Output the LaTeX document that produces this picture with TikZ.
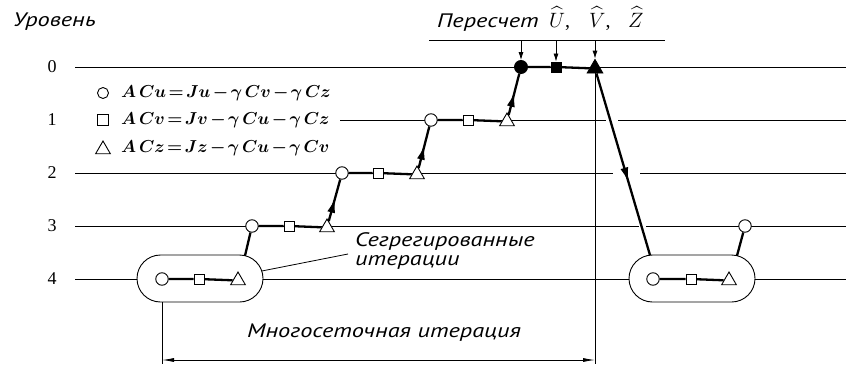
\documentclass[tikz,border=0pt]{standalone}
\usepackage{fontspec}
\usepackage{amsmath}
\usepackage{bm}
\usetikzlibrary{arrows.meta,shapes.geometric,shapes.misc,decorations.markings}
\setmainfont{Liberation Serif}
\newfontfamily\lblfont{PT Sans}[FakeStretch=1.25,ItalicFeatures={FakeStretch=1.25}]
\newcommand\opsp{\mkern2.5mu}
\begin{document}
\begin{tikzpicture}[x=1pt,y=-1pt,
  thinln/.style={line width=0.8pt},
  thk/.style={line width=2.3pt},
  mc/.style={circle,draw,fill=white,line width=0.9pt,minimum size=12.5pt,inner sep=0pt},
  ms/.style={rectangle,draw,fill=white,line width=0.9pt,minimum size=10pt,inner sep=0pt},
  mt/.style={regular polygon,regular polygon sides=3,draw,fill=white,line width=0.9pt,minimum size=17pt,inner sep=0pt},
  solid mark/.style={fill=black},
  pill/.style={rounded rectangle,draw,fill=white,line width=0.9pt,minimum width=126pt,minimum height=47pt,inner sep=0pt},
  midarrow/.style={postaction={decorate},decoration={markings,mark=at position #1 with {\arrow{Latex[length=15pt,width=8pt]}}}},
  lbl/.style={font=\lblfont\itshape\fontsize{19.5}{23}\selectfont},
  hatlbl/.style={font=\fontsize{20}{24}\selectfont,anchor=base west,inner sep=0pt},
  lvlnum/.style={font=\fontsize{18}{21}\selectfont},
  eqn/.style={font=\fontsize{17}{20}\selectfont,anchor=west,inner sep=0pt},
]
\useasboundingbox (0,0) rectangle (846,367);

% level lines
\draw[thinln] (75,67) -- (846,67);
\draw[thinln] (340,120) -- (606,120) (618,120) -- (846,120);
\draw[thinln] (75,173) -- (613,173) (640,173) -- (846,173);
\draw[thinln] (75,226) -- (639,226) (646,226) -- (846,226);
\draw[thinln] (75,279) -- (846,279);

% level numbers
\node[lvlnum] (n0) at (52,67) {0};
\node[lvlnum] (n1) at (52,120) {1};
\node[lvlnum] (n2) at (52,173) {2};
\node[lvlnum] (n3) at (52,226) {3};
\node[lvlnum] (n4) at (52,279) {4};
\node[lbl,anchor=base west,inner sep=0pt] (lev) at (13,26) {Уровень};

% legend
\node[mc,minimum size=11pt] (lc) at (103,93) {};
\node[ms,minimum size=10.5pt] (ls) at (103,120) {};
\node[mt,minimum size=17pt] (lt) at (103,149.5) {};
\node[eqn] (e1) at (121,93) {$\bm{A\,Cu\opsp{=}\opsp Ju\opsp{-}\opsp\gamma\,Cv\opsp{-}\opsp\gamma\,Cz}$};
\node[eqn] (e2) at (121,120) {$\bm{A\,Cv\opsp{=}\opsp Jv\opsp{-}\opsp\gamma\,Cu\opsp{-}\opsp\gamma\,Cz}$};
\node[eqn] (e3) at (121,148) {$\bm{A\,Cz\opsp{=}\opsp Jz\opsp{-}\opsp\gamma\,Cu\opsp{-}\opsp\gamma\,Cv}$};

% recalculation bar
\coordinate (bl) at (429,40);
\coordinate (br) at (665,40);
\draw[thinln] (bl) -- (br);
\node[lbl,anchor=base west,inner sep=0pt] (rc) at (437,27) {Пересчет};
\node[hatlbl] (hu) at (549,27) {$\widehat{U}$,};
\node[hatlbl] (hv) at (589,27) {$\widehat{V}$,};
\node[hatlbl] (hz) at (628,27) {$\widehat{Z}$};

% pills (segregated iterations)
\node[pill] (p1) at (200,278.5) {};
\node[pill] (p2) at (692,278.5) {};

% dimension line
\coordinate (dl) at (162,360);
\coordinate (dr) at (595,360);

% markers
\node[mc] (c3) at (252,226) {};
\node[ms] (s3) at (289,226) {};
\node[mt] (t3) at (327,227.5) {};
\node[mc] (c2) at (342,173) {};
\node[ms] (s2) at (378,173) {};
\node[mt] (t2) at (417,174.5) {};
\node[mc] (c1) at (431,120) {};
\node[ms] (s1) at (468,120) {};
\node[mt] (t1) at (507,121.5) {};
\node[mc,solid mark,minimum size=13pt] (c0) at (521,67) {};
\node[ms,solid mark,minimum size=10pt] (s0) at (556,67) {};
\node[mt,solid mark,minimum size=18pt] (t0) at (595,68.5) {};
\node[mc] (c4) at (162,279) {};
\node[ms] (s4) at (199,279) {};
\node[mt] (t4) at (238,280.5) {};
\node[mc] (c4r) at (653,279) {};
\node[ms] (s4r) at (691,279) {};
\node[mt] (t4r) at (729,280.5) {};
\node[mc] (cr) at (745,226) {};

% thin verticals and dimension
\draw[thinln] (t0.south) -- (595,364);
\draw[thinln] (p1.south -| c4) -- (162,364);
\draw[thinln,{Latex[length=12pt,width=4pt]}-{Latex[length=12pt,width=4pt]}] (dl) -- (dr);
\node[lbl] (mg) at (384,333) {Многосеточная итерация};

% recalculation arrows
\draw[thinln,-{Latex[length=8pt,width=5pt]}] (c0 |- bl) -- (c0);
\draw[thinln,-{Latex[length=8pt,width=5pt]}] (s0 |- bl) -- (s0);
\draw[thinln,-{Latex[length=8pt,width=5pt]}] (t0 |- bl) -- (t0.north);

% horizontal chains
\draw[thk] (c3) -- (s3) -- (t3);
\draw[thk] (c2) -- (s2) -- (t2);
\draw[thk] (c1) -- (s1) -- (t1);
\draw[thk] (c0) -- (s0) -- (t0);
\draw[thk] (c4) -- (s4) -- (t4);
\draw[thk] (c4r) -- (s4r) -- (t4r);

% level transfers
\coordinate (p1a) at (245,255.7);
\coordinate (p2a) at (650,255.1);
\coordinate (p2b) at (737,255.7);
\draw[thk] (p1a) -- (c3);
\draw[thk,midarrow=0.56] (t3) -- (c2);
\draw[thk,midarrow=0.56] (t2) -- (c1);
\draw[thk,midarrow=0.56] (t1) -- (c0);
\draw[thk,midarrow=0.6] (t0) -- (p2a);
\draw[thk] (p2b) -- (cr);

% segregated iterations label
\coordinate (ldr) at (261.8,271);
\node[lbl,anchor=west,align=left,inner sep=0pt] (seg) at (355,251) {Сегрегированные\\[-4pt]итерации};
\draw[thinln] (ldr) -- ([xshift=-7pt,yshift=-3pt]seg.west);
\end{tikzpicture}
\end{document}
